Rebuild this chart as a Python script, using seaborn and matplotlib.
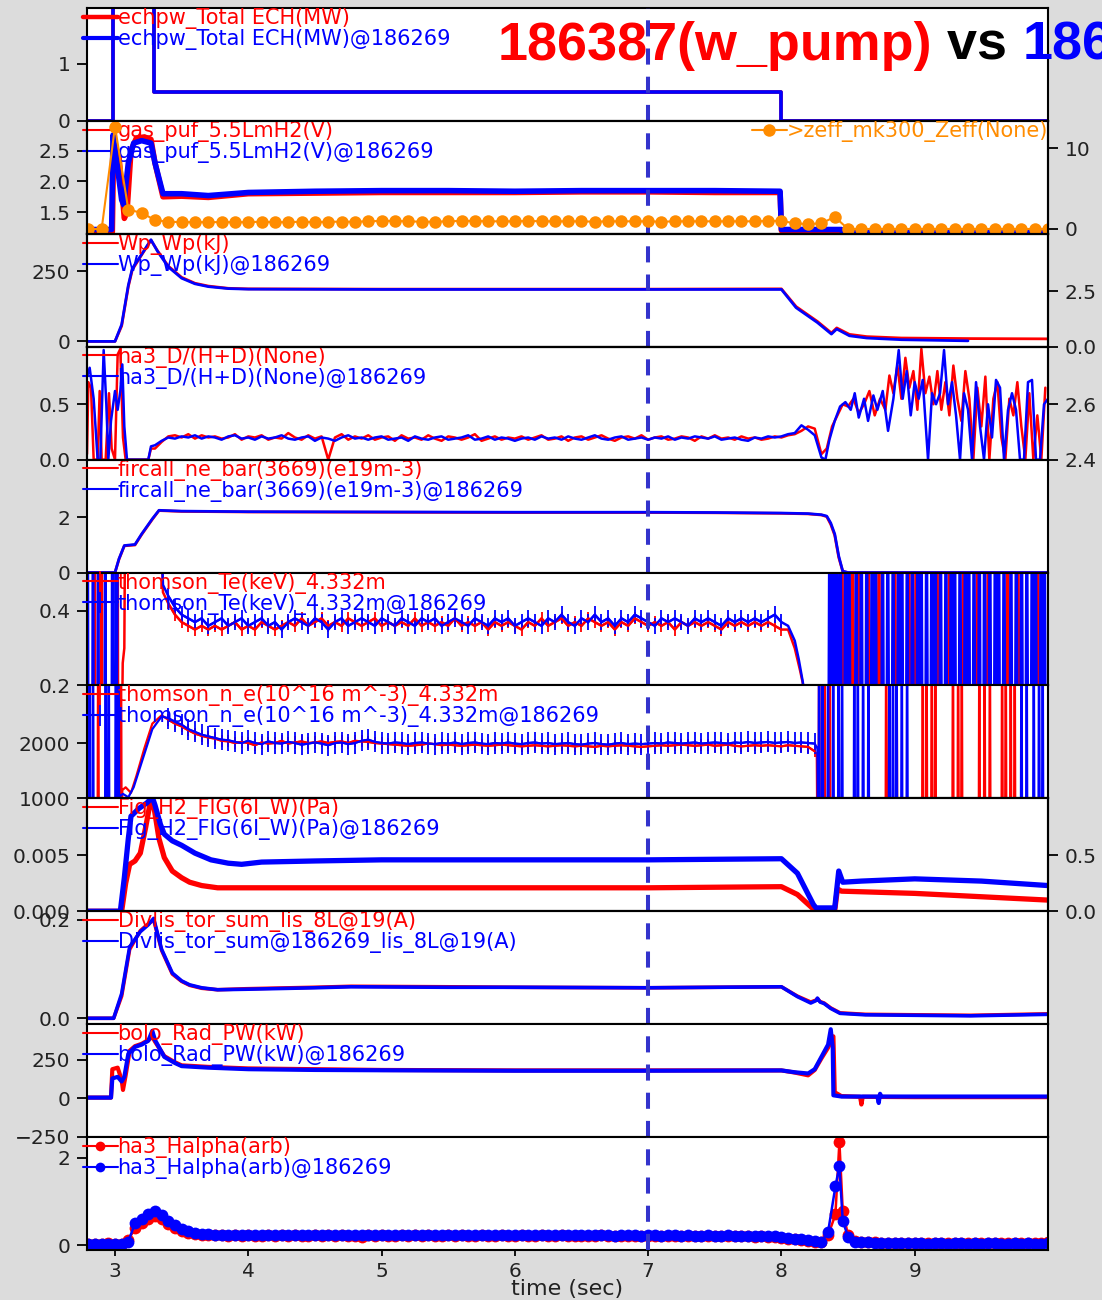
import numpy as np
import matplotlib
matplotlib.use("Agg")
import matplotlib.pyplot as plt
from matplotlib.lines import Line2D
import seaborn as sns

# ---------------------------------------------------------------- labels
SHOT = "186387(w_pump)"
REF_SHOT = "186269"
MARK_T = 7.0
T_RANGE = (2.79, 10.0)
T_TICKS = [3, 4, 5, 6, 7, 8, 9]

# ---------------------------------------------------------------- ECH power
ECH_T = [2.79, 2.985, 2.985, 3.29, 3.29, 8.0, 8.0, 10.0]
ECH_RED = [0, 0, 2.05, 2.05, 0.5, 0.5, 0, 0]
ECH_BLUE = [0, 0, 2.05, 2.05, 0.5, 0.5, 0, 0]

# ---------------------------------------------------------------- gas puff + Zeff
GAS_T_RED = [2.79, 2.98, 2.99, 3.03, 3.07, 3.09, 3.12, 3.16, 3.22, 3.27, 3.30, 3.36, 3.50,
             3.70, 4.00, 4.50, 5.00, 5.50, 6.00, 6.50, 7.00, 7.50, 7.99, 8.00, 8.45, 8.46, 10.0]
GAS_RED = [1.18, 1.18, 2.60, 2.40, 1.40, 1.50, 2.50, 2.70, 2.72, 2.68, 2.30, 1.75, 1.76,
           1.74, 1.80, 1.81, 1.82, 1.82, 1.82, 1.83, 1.83, 1.82, 1.82, 1.20, 1.20, 1.17, 1.17]
GAS_T_BLUE = [2.79, 2.975, 2.985, 3.02, 3.05, 3.065, 3.10, 3.14, 3.20, 3.27, 3.30, 3.36, 3.50,
              3.70, 4.00, 4.50, 5.00, 5.50, 6.00, 6.50, 7.00, 7.50, 7.99, 8.00, 8.45, 8.46, 10.0]
GAS_BLUE = [1.22, 1.22, 2.75, 2.20, 1.70, 1.62, 2.30, 2.62, 2.66, 2.62, 2.30, 1.80, 1.80,
            1.77, 1.82, 1.84, 1.85, 1.85, 1.84, 1.85, 1.85, 1.85, 1.84, 1.22, 1.22, 1.17, 1.17]
ZEFF_T0, ZEFF_DT = 2.8, 0.1
ZEFF = [0.0, 0.0, 12.7, 2.4, 2.0, 1.1, 0.9, 0.85, 0.85, 0.85,
        0.85, 0.85, 0.85, 0.9, 0.85, 0.85, 0.9, 0.85, 0.9, 0.9,
        0.9, 0.95, 1.0, 1.0, 0.95, 0.9, 0.9, 0.95, 1.0, 1.0,
        0.95, 0.95, 0.95, 1.0, 0.95, 0.95, 0.95, 0.95, 0.9, 0.95,
        0.95, 0.95, 0.95, 0.9, 0.95, 0.95, 0.95, 0.95, 0.95, 0.95,
        0.95, 1.0, 1.0, 0.7, 0.6, 0.7, 1.5, 0.0, 0.0, 0.0,
        0.0, 0.0, 0.0, 0.0, 0.0, 0.0, 0.0, 0.0, 0.0, 0.0,
        0.0, 0.0, 0.0]

# ---------------------------------------------------------------- stored energy
WP_T_BLUE = [2.79, 3.00, 3.05, 3.10, 3.13, 3.20, 3.27, 3.32, 3.40, 3.50, 3.60, 3.70, 3.85,
             4.00, 5.00, 6.00, 7.00, 8.00, 8.11, 8.27, 8.375, 8.415, 8.51, 8.64, 8.90, 9.40]
WP_BLUE = [0, 0, 60, 200, 260, 310, 362, 320, 265, 225, 205, 195, 188,
           186, 185, 185, 185, 185, 120, 67, 26, 44, 20, 12, 6, 2]
WP_T_RED = [2.79, 3.00, 3.05, 3.10, 3.13, 3.20, 3.27, 3.32, 3.40, 3.50, 3.60, 3.70, 3.85,
            4.00, 5.00, 6.00, 7.00, 8.00, 8.11, 8.27, 8.375, 8.415, 8.51, 8.64, 8.90, 9.40, 10.0]
WP_RED = [0, 0, 55, 195, 255, 308, 360, 322, 268, 228, 207, 197, 189,
          187, 186, 186, 186, 187, 124, 71, 30, 48, 25, 17, 12, 10, 9]

# ---------------------------------------------------------------- D/(H+D)
DH_BLUE_HEAD_T = [2.79, 2.81, 2.84, 2.87, 2.89, 2.915, 2.935, 2.95, 2.97, 3.00, 3.02, 3.04,
                  3.055, 3.07, 3.09, 3.25, 3.27]
DH_BLUE_HEAD = [0.75, 0.83, 0.55, 0.0, 0.0, 0.99, 0.50, 0.0, 0.35, 0.62, 0.45, 0.62,
                0.86, 0.30, 0.0, 0.0, 0.12]
DH_RED_HEAD_T = [2.79, 2.80, 2.82, 2.84, 2.87, 2.885, 2.90, 2.93, 2.955, 2.975, 3.00, 3.02,
                 3.04, 3.06, 3.08, 3.25, 3.27]
DH_RED_HEAD = [0.05, 0.70, 0.65, 0.0, 0.0, 0.62, 0.0, 0.0, 0.60, 0.10, 0.0, 0.95,
               1.0, 0.20, 0.0, 0.0, 0.10]
DH_MID_T0, DH_MID_DT = 3.30, 0.05
DH_BLUE_MID = [.13, .17, .20, .19, .21, .20, .22, .19, .21, .20,
               .18, .21, .22, .19, .20, .18, .21, .19, .20, .22,
               .19, .18, .20, .21, .17, .20, .19, .17, .20, .22,
               .19, .20, .18, .20, .21, .18, .19, .20, .17, .21,
               .19, .18, .20, .21, .18, .19, .20, .22, .18, .19,
               .21, .18, .20, .19, .17, .19, .20, .18, .21, .19,
               .20, .18, .21, .19, .18, .20, .22, .19, .18, .20,
               .21, .18, .19, .20, .18, .20, .19, .21, .18, .20,
               .19, .21, .20, .19, .21, .18, .19, .20, .18, .17,
               .20, .19, .21, .20, .21, .23, .24, .31, .27, .22,
               .02]
DH_RED_MID = [.10, .16, .21, .22, .20, .23, .19, .22, .20, .21,
              .19, .20, .23, .18, .21, .20, .22, .18, .20, .19,
              .24, .20, .18, .22, .19, .21, .00, .20, .23, .18,
              .21, .19, .22, .18, .20, .21, .17, .22, .19, .20,
              .18, .22, .19, .17, .21, .20, .18, .20, .23, .17,
              .19, .21, .18, .20, .19, .21, .18, .20, .22, .18,
              .19, .21, .17, .20, .21, .18, .20, .22, .19, .17,
              .20, .21, .19, .22, .18, .20, .21, .18, .19, .21,
              .20, .17, .21, .19, .22, .19, .20, .18, .21, .19,
              .20, .18, .19, .21, .20, .22, .23, .26, .30, .28,
              .05]
DH_BLUE_TAIL_T = [8.33, 8.36, 8.40, 8.44, 8.48, 8.52, 8.55, 8.58, 8.62, 8.65,
                  8.69, 8.72, 8.76, 8.80, 8.84, 8.88, 8.91, 8.94, 8.97, 9.00,
                  9.03, 9.06, 9.10, 9.13, 9.16, 9.19, 9.22, 9.25, 9.28, 9.31,
                  9.34, 9.37, 9.40, 9.43, 9.46, 9.49, 9.52, 9.55, 9.58, 9.61,
                  9.64, 9.67, 9.70, 9.73, 9.76, 9.79, 9.82, 9.85, 9.88, 9.91,
                  9.94, 9.97, 10.0]
DH_BLUE_TAIL = [0.0, 0.18, 0.35, 0.48, 0.52, 0.45, 0.60, 0.38, 0.55, 0.35,
                0.58, 0.45, 0.62, 0.26, 0.55, 0.99, 0.55, 0.80, 0.40, 0.70,
                0.55, 0.72, 0.0, 0.60, 0.50, 0.60, 0.99, 0.50, 0.70, 0.40,
                0.0, 0.60, 0.45, 0.0, 0.70, 0.30, 0.0, 0.50, 0.20, 0.72,
                0.65, 0.0, 0.45, 0.60, 0.45, 0.0, 0.0, 0.70, 0.72, 0.0,
                0.0, 0.50, 0.55]
DH_RED_TAIL_T = [8.34, 8.38, 8.42, 8.46, 8.50, 8.54, 8.58, 8.62, 8.66, 8.70,
                 8.74, 8.78, 8.81, 8.84, 8.87, 8.90, 8.93, 8.96, 8.99, 9.02,
                 9.05, 9.08, 9.11, 9.14, 9.17, 9.20, 9.23, 9.26, 9.29, 9.32,
                 9.35, 9.38, 9.41, 9.44, 9.47, 9.50, 9.53, 9.56, 9.59, 9.62,
                 9.65, 9.68, 9.71, 9.74, 9.77, 9.80, 9.83, 9.86, 9.89, 9.92,
                 9.95, 9.98]
DH_RED_TAIL = [0.10, 0.30, 0.40, 0.50, 0.48, 0.55, 0.42, 0.50, 0.62, 0.40,
               0.55, 0.45, 0.76, 0.60, 0.85, 0.55, 0.92, 0.65, 0.80, 0.45,
               1.0, 0.60, 0.75, 0.50, 0.80, 0.45, 0.70, 0.40, 0.85, 0.55,
               0.35, 0.80, 0.55, 0.0, 0.65, 0.30, 0.75, 0.0, 0.55, 0.70,
               0.20, 0.0, 0.55, 0.40, 0.70, 0.30, 0.0, 0.60, 0.0, 0.40,
               0.0, 0.65]

# ---------------------------------------------------------------- line-averaged density
NE_T = [2.79, 3.00, 3.03, 3.07, 3.15, 3.20, 3.28, 3.33, 3.50, 4.00, 5.00, 6.00, 7.00, 7.50,
        8.00, 8.20, 8.30, 8.34, 8.37, 8.40, 8.43, 8.46, 8.50, 10.0]
NE_BLUE = [0, 0, 0.5, 0.98, 1.02, 1.4, 1.95, 2.26, 2.23, 2.21, 2.2, 2.19, 2.19, 2.18,
           2.16, 2.14, 2.10, 2.05, 1.80, 1.40, 0.60, 0.05, 0.0, 0.0]
NE_RED = [0, 0, 0.48, 0.97, 1.0, 1.38, 1.93, 2.25, 2.22, 2.2, 2.19, 2.18, 2.18, 2.17,
          2.15, 2.13, 2.09, 2.03, 1.75, 1.35, 0.55, 0.04, 0.0, 0.0]

# ---------------------------------------------------------------- Thomson Te
TE_BLUE_HEAD_SPIKES = [2.795, 2.835, 2.874, 2.927, 2.98, 3.006]
TE_RED_HEAD_SPIKES = [2.848, 2.90, 3.019]
TE_BLUE_RISE_T = [3.025, 3.32, 3.36]
TE_BLUE_RISE = [0.9, 0.9, 0.47]
TE_RED_RISE_T = [3.05, 3.058, 3.07, 3.08, 3.32, 3.36]
TE_RED_RISE = [0.0, 0.26, 0.30, 0.9, 0.9, 0.45]
TE_MID_T0, TE_MID_DT = 3.40, 0.05
TE_BLUE_MID = [.44, .41, .39, .38, .37, .38, .36, .37, .38, .36,
               .37, .38, .36, .37, .38, .36, .37, .35, .37, .38,
               .37, .36, .38, .37, .35, .37, .38, .36, .37, .38,
               .37, .36, .38, .37, .36, .38, .37, .36, .38, .37,
               .38, .36, .37, .38, .37, .36, .38, .37, .36, .38,
               .37, .38, .36, .37, .38, .37, .36, .38, .37, .39,
               .37, .36, .38, .37, .39, .37, .38, .36, .38, .37,
               .39, .38, .37, .36, .38, .37, .38, .37, .36, .38,
               .37, .38, .37, .36, .38, .37, .38, .37, .38, .37,
               .38, .39, .37]
TE_RED_MID = [.42, .39, .37, .36, .35, .36, .35, .36, .35, .36,
              .37, .35, .36, .35, .37, .36, .35, .36, .37, .36,
              .38, .36, .37, .38, .36, .37, .36, .38, .37, .36,
              .37, .38, .36, .37, .36, .37, .36, .38, .36, .37,
              .36, .37, .36, .38, .36, .37, .36, .37, .35, .37,
              .36, .37, .36, .35, .37, .36, .38, .36, .37, .38,
              .36, .37, .36, .38, .37, .36, .37, .35, .37, .36,
              .38, .37, .36, .37, .36, .37, .35, .37, .36, .37,
              .36, .37, .36, .35, .37, .36, .37, .36, .37, .36,
              .37, .36, .35]
TE_ERR_BLUE, TE_ERR_RED = 0.022, 0.016
TE_BLUE_FALL_T = [8.05, 8.10, 8.13, 8.16, 8.18, 8.34]
TE_BLUE_FALL = [0.36, 0.32, 0.27, 0.21, 0.15, 0.0]
TE_RED_FALL_T = [8.05, 8.10, 8.14, 8.17, 8.19, 8.36]
TE_RED_FALL = [0.35, 0.30, 0.24, 0.19, 0.12, 0.0]
TE_BLUE_TAIL_SPIKES = [8.362, 8.389, 8.415, 8.442, 8.481, 8.508, 8.561, 8.600, 8.640, 8.680,
                       8.706, 8.759, 8.798, 8.838, 8.878, 8.904, 8.944, 8.983, 9.023, 9.049,
                       9.089, 9.128, 9.155, 9.194, 9.234, 9.274, 9.300, 9.340, 9.379, 9.406,
                       9.445, 9.485, 9.524, 9.564, 9.604, 9.630, 9.670, 9.722, 9.762, 9.802,
                       9.841, 9.881, 9.907, 9.947, 9.973]
TE_RED_TAIL_SPIKES = [8.376, 8.455, 8.534, 8.587, 8.653, 8.732, 8.851, 8.957, 9.010, 9.168,
                      9.260, 9.366, 9.472, 9.551, 9.617, 9.696, 9.775, 9.920]

# ---------------------------------------------------------------- Thomson ne
NT_BLUE_HEAD_SPIKES = [2.808, 2.835, 2.93, 2.953, 3.006, 3.027]
NT_RED_HEAD_SPIKES = [2.874, 3.045]
NT_BLUE_RISE_T = [3.035, 3.04, 3.06, 3.10, 3.14, 3.20, 3.28, 3.35]
NT_BLUE_RISE = [0, 1050, 1080, 1020, 1200, 1650, 2250, 2480]
NT_RED_RISE_T = [3.05, 3.055, 3.08, 3.12, 3.16, 3.22, 3.28, 3.35]
NT_RED_RISE = [0, 1150, 1200, 1100, 1400, 1900, 2350, 2500]
NT_MID_T0, NT_MID_DT = 3.40, 0.05
NT_BLUE_MID = [2450, 2380, 2330, 2250, 2200, 2150, 2120, 2090, 2060, 2050,
               2020, 2000, 2040, 2000, 1980, 2030, 2000, 1990, 2020, 2000,
               1970, 1990, 2010, 1990, 1960, 2000, 2010, 1980, 2000, 2040,
               2060, 2020, 2000, 1990, 2010, 2000, 1980, 2000, 2010, 1990,
               1980, 2000, 1990, 2010, 1980, 2000, 2010, 1990, 1980, 2000,
               1990, 2010, 1990, 1980, 2000, 2010, 1990, 2000, 1980, 1990,
               2000, 1980, 1970, 1990, 2000, 1980, 1970, 1990, 2000, 1980,
               1990, 1980, 1990, 2000, 1990, 2010, 2000, 1990, 2000, 2010,
               1990, 2000, 2010, 2000, 1990, 2010, 2000, 2020, 2000, 2010,
               2020, 2000, 2010, 2020, 2000, 2010, 2000, 1990]
NT_RED_MID = [2420, 2350, 2300, 2230, 2170, 2130, 2100, 2080, 2040, 2030,
              2000, 2020, 2000, 1960, 2010, 1990, 2000, 2040, 1990, 2010,
              2030, 2000, 2010, 2030, 2000, 2020, 2030, 2000, 2040, 2030,
              2020, 2000, 1990, 1980, 1970, 1960, 1950, 1960, 1970, 1990,
              1980, 1960, 1970, 1960, 1950, 1960, 1970, 1960, 1950, 1960,
              1970, 1960, 1950, 1940, 1950, 1960, 1950, 1940, 1950, 1960,
              1950, 1940, 1950, 1940, 1930, 1950, 1940, 1950, 1960, 1950,
              1940, 1930, 1940, 1950, 1960, 1950, 1960, 1970, 1960, 1950,
              1960, 1970, 1950, 1960, 1970, 1950, 1940, 1950, 1960, 1950,
              1960, 1950, 1940, 1960, 1950, 1940, 1930, 1850]
NT_ERR_BLUE, NT_ERR_RED = 190, 110
NT_BLUE_FALL_T = [8.27, 8.275]
NT_BLUE_FALL = [1900, 0]
NT_RED_FALL_T = [8.265, 8.27]
NT_RED_FALL = [1800, 0]
NT_BLUE_TAIL_SPIKES = [8.283, 8.309, 8.35, 8.389, 8.429, 8.455, 8.547, 8.573, 8.613, 8.653,
                       8.81, 8.837, 8.864, 8.903, 8.943, 9.801, 9.84, 9.893, 9.933, 9.96]
NT_RED_TAIL_SPIKES = [8.283, 8.323, 8.363, 8.786, 8.81, 8.864, 9.06, 9.089, 9.128, 9.155,
                      9.287, 9.326, 9.353, 9.485, 9.524, 9.564, 9.656, 9.683, 9.72, 9.75]

# ---------------------------------------------------------------- fast ion gauge
FIG_T_BLUE = [2.79, 3.04, 3.07, 3.10, 3.12, 3.18, 3.24, 3.28, 3.30, 3.34, 3.37, 3.43, 3.50,
              3.60, 3.72, 3.85, 3.95, 4.10, 4.50, 5.00, 6.00, 7.00, 8.00, 8.12, 8.24, 8.26,
              8.40, 8.43, 8.46, 8.60, 9.00, 9.50, 10.0]
FIG_BLUE = [0, 0, 0.003, 0.0065, 0.0085, 0.0092, 0.0097, 0.0102, 0.0095, 0.0078, 0.0069,
            0.0063, 0.0059, 0.0052, 0.0046, 0.0043, 0.0042, 0.0044, 0.0045, 0.0046, 0.0046,
            0.0046, 0.0047, 0.0034, 0.0006, 0.0003, 0.0003, 0.0036, 0.0026, 0.0027, 0.0029,
            0.0027, 0.0023]
FIG_T_RED = [2.79, 3.05, 3.08, 3.11, 3.15, 3.19, 3.23, 3.27, 3.29, 3.33, 3.37, 3.43, 3.50,
             3.56, 3.65, 3.77, 4.00, 5.00, 6.00, 7.00, 8.00, 8.12, 8.24, 8.26, 8.40, 8.42,
             8.45, 9.00, 9.50, 10.0]
FIG_RED = [0, 0, 0.0025, 0.0042, 0.0045, 0.0052, 0.0075, 0.0101, 0.0095, 0.0065, 0.0048,
           0.0036, 0.0030, 0.0026, 0.0023, 0.0021, 0.0021, 0.0021, 0.0021, 0.0021, 0.0022,
           0.0015, 0.0002, 0.0001, 0.0001, 0.0020, 0.0018, 0.0016, 0.0013, 0.0010]

# ---------------------------------------------------------------- divertor probe current
DIV_T = [2.79, 2.99, 3.05, 3.11, 3.19, 3.25, 3.29, 3.35, 3.43, 3.50, 3.56, 3.65, 3.77, 3.98,
         4.50, 4.77, 5.50, 6.00, 7.00, 8.00, 8.12, 8.22, 8.26, 8.27, 8.29, 8.32, 8.37, 8.44,
         8.63, 9.42, 10.0]
DIV_BLUE = [0, 0, 0.05, 0.145, 0.176, 0.19, 0.203, 0.14, 0.092, 0.076, 0.068, 0.062, 0.058,
            0.059, 0.062, 0.064, 0.063, 0.063, 0.062, 0.064, 0.044, 0.031, 0.036, 0.041,
            0.033, 0.030, 0.020, 0.010, 0.007, 0.005, 0.008]
DIV_RED = [0, 0, 0.045, 0.14, 0.178, 0.192, 0.2, 0.138, 0.09, 0.075, 0.067, 0.061, 0.058,
           0.06, 0.063, 0.065, 0.064, 0.063, 0.062, 0.064, 0.045, 0.033, 0.037, 0.04,
           0.034, 0.031, 0.021, 0.011, 0.008, 0.006, 0.009]

# ---------------------------------------------------------------- bolometer
BOLO_T_RED = [2.79, 2.97, 2.98, 3.02, 3.05, 3.06, 3.08, 3.11, 3.15, 3.20, 3.25, 3.28, 3.30,
              3.37, 3.45, 3.50, 3.70, 4.00, 4.50, 5.00, 6.00, 7.00, 8.00, 8.10, 8.20, 8.25,
              8.30, 8.35, 8.39, 8.40, 8.45, 8.59, 8.60, 8.61, 9.00, 10.0]
BOLO_RED = [5, 5, 190, 200, 120, 55, 150, 310, 340, 355, 380, 400, 370, 275, 235, 215, 205,
            195, 190, 185, 182, 182, 182, 168, 150, 185, 260, 330, 404, 40, 15, 10, -40, 10,
            8, 8]
BOLO_T_BLUE = [2.79, 2.97, 2.98, 3.02, 3.05, 3.07, 3.10, 3.15, 3.20, 3.25, 3.28, 3.30, 3.37,
               3.45, 3.50, 3.70, 4.00, 4.50, 5.00, 6.00, 7.00, 8.00, 8.10, 8.20, 8.25, 8.30,
               8.35, 8.37, 8.385, 8.39, 8.45, 8.72, 8.73, 8.74, 8.75, 10.0]
BOLO_BLUE = [5, 5, 130, 140, 110, 140, 290, 335, 350, 375, 440, 380, 270, 230, 210, 200, 190,
             185, 183, 180, 180, 182, 170, 162, 190, 270, 350, 450, 330, 20, 12, 12, -30, 30,
             12, 12]

# ---------------------------------------------------------------- H-alpha
HA_T0, HA_DT = 2.80, 0.05
HA_PEAK_T = [8.405, 8.435, 8.46]
HA_T2 = 8.50
HA_BLUE_1 = [.02, .02, .03, .02, .03, .03, .08, .50, .60, .70,
             .78, .68, .55, .45, .36, .32, .28, .26, .25, .24,
             .23, .23, .24, .23, .24, .23, .23, .24, .23, .24,
             .23, .24, .23, .22, .23, .24, .23, .24, .23, .23,
             .24, .23, .23, .24, .23, .24, .23, .23, .24, .23,
             .23, .24, .23, .23, .23, .24, .23, .24, .23, .23,
             .22, .22, .23, .22, .22, .23, .22, .22, .23, .22,
             .22, .23, .22, .22, .22, .23, .22, .22, .22, .21,
             .22, .22, .22, .21, .22, .22, .21, .22, .22, .21,
             .22, .21, .21, .22, .21, .21, .22, .21, .21, .21,
             .20, .21, .20, .20, .19, .17, .15, .13, .11, .09,
             .08, .30]
HA_BLUE_PEAK = [1.34, 1.81, 0.55]
HA_BLUE_2 = [.19, .08, .07, .06, .05, .05, .04, .04, .04, .04,
             .04, .04, .03, .04, .04, .03, .04, .04, .03, .04,
             .03, .04, .04, .03, .03, .04, .03, .04, .03, .03, .04]
HA_RED_1 = [.03, .03, .02, .04, .03, .03, .12, .38, .50, .60,
            .66, .60, .48, .38, .32, .28, .25, .24, .23, .22,
            .22, .21, .22, .21, .22, .21, .20, .22, .21, .22,
            .21, .22, .21, .21, .22, .21, .22, .21, .22, .21,
            .21, .19, .22, .21, .22, .21, .21, .22, .21, .22,
            .21, .22, .21, .21, .22, .21, .22, .21, .21, .22,
            .21, .21, .22, .21, .21, .22, .21, .21, .22, .21,
            .21, .22, .21, .21, .20, .21, .21, .22, .21, .20,
            .21, .21, .20, .21, .21, .20, .21, .21, .20, .21,
            .20, .21, .21, .20, .21, .20, .21, .20, .20, .20,
            .19, .20, .19, .18, .17, .15, .13, .11, .09, .07,
            .06, .22]
HA_RED_PEAK = [0.70, 2.36, 0.79]
HA_RED_2 = [.22, .10, .08, .06, .06, .05, .05, .04, .05, .04,
            .05, .04, .04, .05, .04, .04, .05, .04, .04, .05,
            .04, .04, .05, .04, .04, .05, .04, .04, .05, .05, .06]

# ---------------------------------------------------------------- styling
RED, BLUE, ORANGE = "#ff0000", "#0000ff", "#ff8c00"
MARK_COLOR = "#3333cc"
BG = "#dcdcdc"


def block(t0, dt, values):
    return [t0 + dt * i for i in range(len(values))], list(values)


def spikes(times, lo, hi, half=0.005):
    t, v = [], []
    for s in times:
        t += [s - half, s, s + half]
        v += [lo, hi, lo]
    return t, v


def join(*parts):
    t, v = [], []
    for pt, pv in parts:
        t.extend(pt)
        v.extend(pv)
    return np.asarray(t, float), np.asarray(v, float)


def draw(ax, t, v, color, lw, **kw):
    sns.lineplot(x=np.asarray(t, float), y=np.asarray(v, float), ax=ax, color=color,
                 linewidth=lw, estimator=None, sort=False, legend=False, **kw)


def legend(ax, handles, labels, colors, loc="upper left"):
    anchor = (-0.004, 1.0) if loc == "upper left" else (1.0, 1.0)
    leg = ax.legend(handles, labels, loc=loc, bbox_to_anchor=anchor, frameon=False,
                    fontsize=15, borderpad=0.0, borderaxespad=0.0, labelspacing=0.0,
                    handlelength=1.65, handletextpad=0.0, numpoints=1)
    for txt, c in zip(leg.get_texts(), colors):
        txt.set_color(c)
    return leg


def thin(color, **kw):
    return Line2D([], [], color=color, lw=1.5, **kw)


def pair(name):
    return [name, name + "@" + REF_SHOT]


sns.set_style("ticks", {"axes.edgecolor": "black", "axes.facecolor": "white",
                        "xtick.direction": "out", "ytick.direction": "out"})
plt.rcParams["font.family"] = ["DejaVu Sans"]
plt.rcParams.update({
    "axes.linewidth": 1.5,
    "xtick.major.size": 4.5, "ytick.major.size": 7,
    "xtick.major.width": 1.3, "ytick.major.width": 1.3,
    "xtick.labelsize": 14.5, "ytick.labelsize": 14.5,
    "xtick.color": "black", "ytick.color": "black",
    "xtick.labelcolor": "#222222", "ytick.labelcolor": "#222222",
    "ytick.major.pad": 5, "xtick.major.pad": 4,
})

fig, axes = plt.subplots(11, 1, figsize=(11.02, 13.0), dpi=100, sharex=True)
fig.subplots_adjust(left=87 / 1102, right=1048 / 1102, top=1 - 8 / 1300,
                    bottom=1 - 1250 / 1300, hspace=0.0)
fig.patch.set_facecolor(BG)

# 1 ECH
ax = axes[0]
draw(ax, ECH_T, ECH_RED, RED, 2.6)
draw(ax, ECH_T, ECH_BLUE, BLUE, 2.6)
ax.set_ylim(0, 1.98)
ax.set_yticks([0, 1])
legend(ax, [Line2D([], [], color=RED, lw=3.2), Line2D([], [], color=BLUE, lw=3.0)],
       pair("echpw_Total ECH(MW)"), [RED, BLUE])

# 2 gas puff with Zeff on the right
ax = axes[1]
draw(ax, GAS_T_RED, GAS_RED, RED, 4.0)
draw(ax, GAS_T_BLUE, GAS_BLUE, BLUE, 4.0)
ax.set_ylim(1.15, 2.98)
ax.set_yticks([1.5, 2.0, 2.5])
legend(ax, [thin(RED), thin(BLUE)], pair("gas_puf_5.5LmH2(V)"), [RED, BLUE])
axz = ax.twinx()
zt, zv = block(ZEFF_T0, ZEFF_DT, ZEFF)
draw(axz, zt, zv, ORANGE, 1.5, marker="o", markersize=9, markeredgewidth=0)
axz.set_ylim(-0.6, 13.4)
axz.set_yticks([0, 10])
legend(axz, [Line2D([], [], color=ORANGE, lw=1.5, marker="o", markersize=9, markeredgewidth=0)],
       [">zeff_mk300_Zeff(None)"], [ORANGE], loc="upper right")

# 3 Wp
ax = axes[2]
draw(ax, WP_T_RED, WP_RED, RED, 2.0)
draw(ax, WP_T_BLUE, WP_BLUE, BLUE, 2.0)
ax.set_ylim(-19, 383)
ax.set_yticks([0, 250])
legend(ax, [thin(RED), thin(BLUE)], pair("Wp_Wp(kJ)"), [RED, BLUE])
axw = ax.twinx()
axw.set_ylim(0, 5.1)
axw.set_yticks([0.0, 2.5])

# 4 D/(H+D)
ax = axes[3]
t, v = join((DH_RED_HEAD_T, DH_RED_HEAD), block(DH_MID_T0, DH_MID_DT, DH_RED_MID),
            (DH_RED_TAIL_T, DH_RED_TAIL))
draw(ax, t, v, RED, 1.8)
t, v = join((DH_BLUE_HEAD_T, DH_BLUE_HEAD), block(DH_MID_T0, DH_MID_DT, DH_BLUE_MID),
            (DH_BLUE_TAIL_T, DH_BLUE_TAIL))
draw(ax, t, v, BLUE, 1.8)
ax.set_ylim(0, 1.02)
ax.set_yticks([0.0, 0.5])
legend(ax, [thin(RED), thin(BLUE)], pair("ha3_D/(H+D)(None)"), [RED, BLUE])
axd = ax.twinx()
axd.set_ylim(2.4, 2.806)
axd.set_yticks([2.4, 2.6])

# 5 line-averaged density
ax = axes[4]
draw(ax, NE_T, NE_RED, RED, 2.0)
draw(ax, NE_T, NE_BLUE, BLUE, 2.0)
ax.set_ylim(0, 4.1)
ax.set_yticks([0, 2])
legend(ax, [thin(RED), thin(BLUE)], pair("fircall_ne_bar(3669)(e19m-3)"), [RED, BLUE])

# 6 Thomson Te
ax = axes[5]
handles = []
for color, head, rise, mid, err, fall, tail in [
        (RED, TE_RED_HEAD_SPIKES, (TE_RED_RISE_T, TE_RED_RISE), TE_RED_MID, TE_ERR_RED,
         (TE_RED_FALL_T, TE_RED_FALL), TE_RED_TAIL_SPIKES),
        (BLUE, TE_BLUE_HEAD_SPIKES, (TE_BLUE_RISE_T, TE_BLUE_RISE), TE_BLUE_MID, TE_ERR_BLUE,
         (TE_BLUE_FALL_T, TE_BLUE_FALL), TE_BLUE_TAIL_SPIKES)]:
    mt, mv = block(TE_MID_T0, TE_MID_DT, mid)
    t, v = join(spikes(head, 0.0, 0.9), rise, (mt, mv), fall, spikes(tail, 0.0, 0.9, 0.009))
    draw(ax, t, v, color, 1.8)
    handles.append(ax.errorbar(mt, mv, yerr=err, fmt="-", color=color, lw=1.5,
                               elinewidth=1.3, capsize=0))
ax.set_ylim(0.2, 0.503)
ax.set_yticks([0.2, 0.4])
legend(ax, handles, pair("thomson_Te(keV)_4.332m"), [RED, BLUE])

# 7 Thomson ne
ax = axes[6]
handles = []
for color, head, rise, mid, err, fall, tail in [
        (RED, NT_RED_HEAD_SPIKES, (NT_RED_RISE_T, NT_RED_RISE), NT_RED_MID, NT_ERR_RED,
         (NT_RED_FALL_T, NT_RED_FALL), NT_RED_TAIL_SPIKES),
        (BLUE, NT_BLUE_HEAD_SPIKES, (NT_BLUE_RISE_T, NT_BLUE_RISE), NT_BLUE_MID, NT_ERR_BLUE,
         (NT_BLUE_FALL_T, NT_BLUE_FALL), NT_BLUE_TAIL_SPIKES)]:
    mt, mv = block(NT_MID_T0, NT_MID_DT, mid)
    t, v = join(spikes(head, 0, 5000), rise, (mt, mv), fall, spikes(tail, 0, 5000, 0.005))
    draw(ax, t, v, color, 1.6)
    handles.append(ax.errorbar(mt, mv, yerr=err, fmt="-", color=color, lw=1.5,
                               elinewidth=1.3, capsize=0))
ax.set_ylim(1000, 3040)
ax.set_yticks([1000, 2000])
legend(ax, handles, pair("thomson_n_e(10^16 m^-3)_4.332m"), [RED, BLUE])

# 8 fast ion gauge
ax = axes[7]
draw(ax, FIG_T_RED, FIG_RED, RED, 3.8)
draw(ax, FIG_T_BLUE, FIG_BLUE, BLUE, 3.8)
ax.set_ylim(0, 0.0101)
ax.set_yticks([0.0, 0.005])
ax.set_yticklabels(["0.000", "0.005"])
legend(ax, [thin(RED), thin(BLUE)], pair("Fig_H2_FIG(6I_W)(Pa)"), [RED, BLUE])
axf = ax.twinx()
axf.set_ylim(0, 1.01)
axf.set_yticks([0.0, 0.5])

# 9 divertor probes
ax = axes[8]
draw(ax, DIV_T, DIV_RED, RED, 2.6)
draw(ax, DIV_T, DIV_BLUE, BLUE, 2.6)
ax.set_ylim(-0.012, 0.2175)
ax.set_yticks([0.0, 0.2])
legend(ax, [thin(RED), thin(BLUE)],
       ["Divlis_tor_sum_lis_8L@19(A)", "Divlis_tor_sum@" + REF_SHOT + "_lis_8L@19(A)"],
       [RED, BLUE])

# 10 bolometer
ax = axes[9]
draw(ax, BOLO_T_RED, BOLO_RED, RED, 3.0)
draw(ax, BOLO_T_BLUE, BOLO_BLUE, BLUE, 3.0)
ax.set_ylim(-252, 483)
ax.set_yticks([-250, 0, 250])
legend(ax, [thin(RED), thin(BLUE)], pair("bolo_Rad_PW(kW)"), [RED, BLUE])

# 11 H-alpha
ax = axes[10]
for color, p1, pk, p2 in [(RED, HA_RED_1, HA_RED_PEAK, HA_RED_2),
                          (BLUE, HA_BLUE_1, HA_BLUE_PEAK, HA_BLUE_2)]:
    t, v = join(block(HA_T0, HA_DT, p1), (HA_PEAK_T, pk), block(HA_T2, HA_DT, p2))
    draw(ax, t, v, color, 1.8, marker="o", markersize=8.5, markeredgewidth=0)
ax.set_ylim(-0.113, 2.47)
ax.set_yticks([0, 2])
legend(ax, [thin(RED, marker="o", markersize=7, markeredgewidth=0),
            thin(BLUE, marker="o", markersize=7, markeredgewidth=0)],
       pair("ha3_Halpha(arb)"), [RED, BLUE])

for ax in axes:
    ax.axvline(MARK_T, color=MARK_COLOR, lw=2.9, ls=(0, (4, 3)), zorder=6)
    ax.set_ylabel("")
    ax.set_xlabel("")
for twin in (axz, axw, axd, axf):
    twin.tick_params(axis="y", right=True, left=False, labelright=True, labelleft=False,
                     length=7, width=1.3, pad=5)
    twin.set_ylabel("")

axes[-1].set_xlim(*T_RANGE)
axes[-1].set_xticks(T_TICKS)
axes[-1].set_xlabel("time (sec)", fontsize=16, labelpad=-1, color="#222222")

# headline: shot under study vs reference shot
renderer = fig.canvas.get_renderer()
x = 498 / 1102
for text, color in [(SHOT, RED), (" vs ", "black"), (REF_SHOT, BLUE)]:
    t = axes[0].text(x, 1 - 60 / 1300, text, transform=fig.transFigure, color=color,
                     fontsize=38.8, fontweight="bold", family=["Liberation Sans"],
                     ha="left", va="baseline", zorder=4)
    bb = t.get_window_extent(renderer)
    x = fig.transFigure.inverted().transform((bb.x1, bb.y0))[0]

fig.savefig("out.png", dpi=100, facecolor=BG)
